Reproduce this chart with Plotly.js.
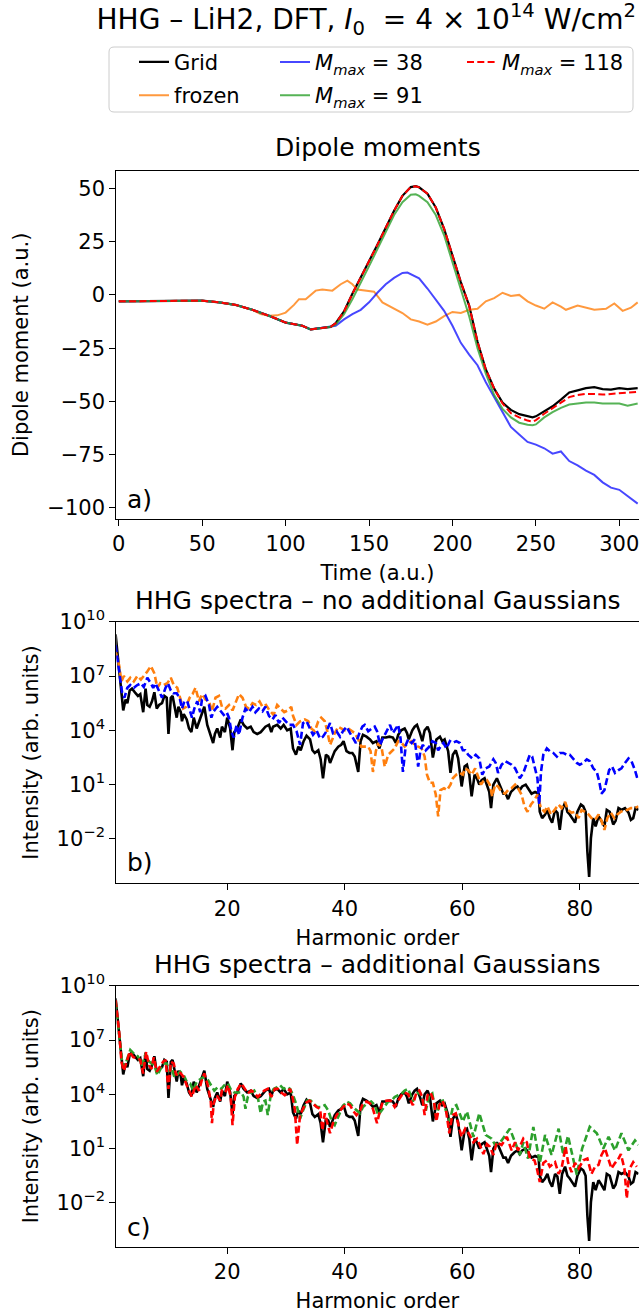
<!DOCTYPE html>
<html><head><meta charset="utf-8">
<script src="https://cdn.plot.ly/plotly-3.0.1.min.js"></script>
<style>html,body{margin:0;padding:0;background:#fff}</style>
</head><body><div id="plot" style="width:639px;height:1315px"></div>
<script>
// ---------- Panel a: dipole moments (time in a.u., dipole in a.u.) ----------
const tA = [0,10,20,30,40,50,60,70,80,90, 100,110,115,120,127,130,135,140,145,150,
  155,160,165,170,175,178,180,185,190,195, 200,205,210,215,220,225,230,235,240,245,
  248,250,255,260,265,270,275,280,285,290, 295,300,305,311];
const dipGrid = [-3,-2.9,-2.8,-2.7,-2.7,-2.7,-3.5,-4.7,-7,-9.8, -13,-14.5,-16.2,-15.6,-15,-13.3,-7.8,0.5,8,16,
  23.5,31.5,39.5,46.5,50.6,51,50.5,47.5,41,31, 18,6,-5,-22,-35,-44,-50.5,-54,-56,-57,
  -57.5,-57,-54.7,-52.3,-49.2,-45.8,-44.8,-43.8,-43.3,-44.2, -44.5,-43.8,-44.2,-43.8];
const dipM118 = [-3,-2.9,-2.8,-2.7,-2.7,-2.7,-3.5,-4.7,-7,-9.8, -13,-14.5,-16.2,-15.6,-15,-13.3,-7.8,0.5,8,16,
  23.5,31.5,39.5,46.5,50.6,51,50.5,47.5,41,31, 18,6,-5,-22,-35,-44,-51,-55.5,-57.5,-59,
  -59.5,-58.8,-55.8,-53.2,-50.5,-48,-47,-46.5,-46.5,-46.8, -46.5,-46.2,-45.7,-45.5];
const dipM91 = [-3,-2.9,-2.8,-2.7,-2.7,-2.7,-3.5,-4.7,-7,-9.8, -13,-14.5,-16.2,-15.6,-15,-14,-9,-2,5.5,13.5,
  21.5,29.5,37.5,43.5,47,47.2,46.5,43.5,37.5,28, 15,2,-10,-25,-37,-47,-53.5,-57.5,-60,-61,
  -61.2,-60.8,-57.5,-55,-53,-51.5,-51,-50.5,-50.5,-51, -51,-51,-52,-51];
const tM38 = [0,10,20,30,40,50,60,70,80,90, 100,110,115,120,125,130,135,140,145,150,
  155,160,165,170,173,177,180,185,190,195, 200,205,210,215,220,225,230,235,240,245,
  250,255,260,265,270,275,280,285,290,295, 300,305,311];
const dipM38 = [-3,-2.9,-2.8,-2.7,-2.7,-2.7,-3.5,-4.7,-7,-9.8, -13,-14.5,-16.2,-15.6,-15.3,-14.5,-11.5,-9,-7,-3.5,
  1,5,8,10.3,10.5,9,7.8,3,-2.3,-7.5, -14.5,-22.5,-28,-33,-41,-48,-55,-62,-65.5,-69,
  -70.3,-72,-74.5,-73.5,-78,-80,-82.5,-84.5,-88,-90.5, -91.5,-94.5,-98];
const tFrozen = [0,10,20,30,40,50,60,70,80,85, 90,95,100,105,108,112,118,122,128,133,
  137,140,143,150,153,158,165,170,175,180, 185,190,195,200,205,210,215,220,225,230,
  235,240,245,250,255,260,265,268,275,285, 292,297,302,307,311];
const dipFrozen = [-3,-2.9,-2.8,-2.7,-2.7,-2.7,-3.5,-4.7,-7,-9, -9.8,-9.6,-8.3,-4.7,-2,-2,2,2.5,2,5,
  6.7,5,2.5,2,1.5,-3.5,-6.3,-8.5,-11.5,-12.5, -14,-12.5,-10,-8,-8.5,-7,-6.5,-3,-1.5,1,
  -0.5,0,-3,-5,-6.5,-3.5,-5.5,-7,-5,-7, -6.5,-4,-7.5,-6,-3.5];

// ---------- Panels b, c: HHG spectra (harmonic order, log10 of intensity) ----------
const hGrid = [1,1.6,2,2.3,2.7,3,3.4,3.8,4.4,4.8, 5.2,5.7,6.1,6.4,6.8,7.2,7.6,8.0,8.4,8.9,
  9.3,9.7,10.0,10.4,10.7,11.0,11.4,11.7,12.1,12.3, 12.6,13.1,13.5,13.9,14.3,14.8,15.2,15.7,16.1,16.6,
  17.2,17.6,17.9,18.3,18.8,19.1,19.6,20.0,20.5,20.9, 21.2,21.7,22.3,22.8,23.4,24.0,24.5,25.1,25.7,26.5,
  27.1,27.5,27.8,28.5,29.1,29.6,30.2,30.8,31.2,31.7, 32.1,32.5,33.0,33.5,34.1,34.5,34.9,35.5,35.9,36.3,
  36.8,37.2,37.5,37.9,38.3,38.9,39.4,39.8,40.3,40.8, 41.3,41.7,42.3,42.7,43.1,43.7,44.3,44.8,45.4,45.9,
  46.4,47.0,47.6,48.2,48.7,49.1,49.6,50.2,50.6,50.9, 51.5,51.9,52.3,52.8,53.2,53.6,54.1,54.5,55.0,55.6,
  56.2,56.6,57.0,57.6,58.0,58.4,58.9,59.3,59.9,60.4, 60.8,61.2,61.6,62.1,62.5,62.9,63.3,63.8,64.2,64.6,
  64.9,65.3,65.9,66.4,67.0,67.4,67.8,68.3,68.9,69.4, 69.8,70.2,70.8,71.2,71.8,72.4,73.0,73.2,73.6,74.1,
  74.5,74.9,75.3,75.8,76.2,76.6,77.0,77.5,77.9,78.3, 78.7,79.2,79.6,80.2,80.6,81.0,81.3,81.6,81.9,82.3,
  82.7,83.2,83.6,84.2,84.6,85.1,85.7,86.1,86.6,87.1, 87.7,88.3,88.7,89.1,89.5,90.0];
const logGrid = [9.3,7.4,6.0,5.1,5.7,5.5,6.2,6.3,6.05,5.9, 6.0,5.0,6.3,5.4,5.3,5.6,6.1,5.2,5.4,5.5,
  5.9,5.8,3.8,5.8,5.9,5.3,4.7,5.3,5.0,4.5, 4.9,4.6,4.1,3.9,4.7,4.1,4.5,5.0,5.3,4.3,
  3.7,3.3,3.8,4.1,3.6,4.2,3.9,4.7,4.1,2.9, 3.9,4.1,4.6,4.3,4.1,4.2,3.9,3.8,3.9,4.2,
  4.3,3.9,4.2,4.3,4.1,4.3,4.0,4.1,3.0,2.65, 3.1,2.9,3.4,3.7,3.5,2.9,2.75,2.9,2.4,1.35,
  2.65,2.55,2.2,2.5,2.85,3.1,3.2,3.4,2.85,2.75, 2.75,2.55,1.7,3.4,3.75,3.65,3.5,3.3,3.4,3.0,
  3.6,3.6,3.65,3.6,3.3,3.75,4.0,4.1,3.85,3.5, 4.0,4.2,4.3,3.85,3.4,4.0,4.2,3.85,2.5,3.5,
  3.65,3.4,3.5,2.85,1.65,2.65,2.9,2.45,0.9,2.0, 2.1,1.55,0.35,1.55,1.35,1.0,1.25,1.35,1.0,0.6,
  -0.3,1.0,1.35,1.0,0.5,0.5,0.2,0.6,0.8,0.9, 0.7,0.9,1.0,0.8,0.5,0.6,0.5,-0.5,-0.85,-0.65,
  -0.4,-0.85,-1.1,-0.4,-0.55,-1.5,-0.4,0.0,-0.5,-0.65, -0.85,-1.1,-0.5,-0.1,-0.2,-0.5,-2.7,-4.1,-1.95,-0.85,
  -1.3,-0.75,-0.95,-1.3,-0.4,-0.5,-1.2,-1.0,-0.3,-0.4, -0.3,-0.55,-0.95,-0.85,-0.3,-0.4];

const hFrozen = [1,1.6,2.0,2.4,3.0,3.5,4.1,4.7,5.3,5.8, 6.4,7.0,7.6,8.1,8.6,9.2,9.8,10.4,10.9,11.5,
  11.9,12.5,13.0,13.6,14.1,14.6,15.2,15.7,16.3,16.9, 17.4,18.0,18.6,19.1,19.7,20.3,20.9,21.5,22.0,22.6,
  23.2,23.7,24.3,24.9,25.5,26.0,26.6,27.2,27.9,28.5, 29.1,29.7,30.3,30.9,31.2,31.8,32.4,33.2,33.8,34.3,
  34.9,35.5,36.0,36.6,37.0,37.5,37.9,38.3,38.9,39.4, 40.0,40.6,41.2,41.7,42.3,42.8,43.4,44.0,44.4,44.8,
  45.3,45.7,46.3,46.8,47.4,48.0,48.5,49.1,49.7,50.2, 50.8,51.4,51.9,52.5,53.1,53.6,54.0,54.5,55.0,55.5,
  55.9,56.3,56.9,57.4,58.0,58.4,59.0,59.6,60.1,60.5, 61.0,61.6,62.2,62.7,63.2,63.6,64.2,64.7,65.1,65.6,
  66.1,66.7,67.3,67.8,68.4,69.0,69.5,70.1,70.6,71.1, 71.7,72.3,72.8,73.4,74.0,74.5,75.1,75.7,76.4,76.9,
  77.5,78.0,78.6,79.2,79.8,80.3,80.9,81.5,82.0,82.6, 83.2,83.7,84.2,84.7,85.3,85.9,86.4,87.0,87.6,88.1,
  88.7,89.4,90.0];
const logFrozen = [8.35,7.6,6.7,7.0,6.7,6.9,6.7,7.0,6.8,7.0, 7.25,7.55,7.15,6.35,6.6,6.5,6.6,6.9,6.5,6.35,
  5.9,5.2,5.3,5.8,6.0,6.35,5.6,6.0,5.7,5.6, 5.05,5.8,5.9,5.3,5.2,5.4,5.1,5.6,6.0,5.8,
  5.3,5.2,5.5,5.4,5.6,5.3,5.4,5.1,4.85,5.4, 5.2,5.0,5.1,5.3,4.8,4.3,4.5,4.6,4.5,4.1,
  3.95,4.5,4.7,4.5,4.0,3.2,3.5,3.85,4.2,4.1, 4.0,4.1,3.95,3.85,3.5,3.1,3.1,3.1,2.85,1.7,
  2.85,3.3,3.0,2.0,2.65,2.85,3.0,3.4,3.3,3.1, 3.3,3.4,3.2,3.1,3.0,2.55,1.55,1.1,1.1,0.45,
  -0.75,0.7,0.8,0.7,1.0,1.35,1.55,1.65,1.55,1.9, 1.8,1.55,1.9,1.45,1.0,1.2,1.25,1.0,0.35,1.0,
  0.9,0.6,0.5,0.7,0.8,1.0,0.8,0.45,-0.2,-0.5, -0.1,0.15,0.45,-0.3,-0.5,-0.2,-0.65,-0.4,-0.1,-0.3,
  0.05,-0.4,-0.55,-0.5,-0.85,-0.4,-0.5,-0.65,-0.85,-0.95, -0.65,-1.0,-1.5,-0.85,-0.55,-0.85,-0.65,-0.5,-0.4,-0.4,
  -0.3,-0.3,-0.2];

const hM38 = [1,1.6,2.1,2.5,3.0,3.5,4.1,4.7,5.3,5.8, 6.4,7.0,7.4,7.8,8.4,8.9,9.5,9.9,10.4,10.8,
  11.4,11.9,12.3,12.7,13.2,13.7,14.0,14.4,14.9,15.4, 15.7,16.3,16.9,17.3,17.7,18.3,18.9,19.4,19.9,20.3,
  20.7,21.1,21.6,22.0,22.6,23.1,23.7,24.3,24.8,25.4, 26.0,26.5,27.1,27.7,28.2,28.8,29.4,29.9,30.5,31.2,
  31.8,32.4,32.9,33.5,34.1,34.6,35.2,35.8,36.3,36.9, 37.5,38.0,38.6,39.2,39.7,40.3,40.9,41.4,41.9,42.5,
  43.0,43.4,44.0,44.6,45.1,45.5,46.0,46.5,47.2,47.7, 48.2,48.7,49.1,49.5,49.9,50.4,50.8,51.4,51.9,52.5,
  52.9,53.3,53.8,54.4,54.9,55.5,55.9,56.5,56.8,57.3, 57.9,58.4,59.0,59.6,60.1,60.5,61.0,61.7,62.3,62.9,
  63.4,64.0,64.6,65.3,65.7,66.1,66.7,67.3,67.8,68.4, 69.0,69.4,69.8,70.4,71.0,71.5,71.9,72.4,72.8,73.1,
  73.4,73.8,74.4,74.9,75.5,76.1,76.6,77.2,77.8,78.3, 78.9,79.5,80.0,80.6,81.2,81.7,82.3,82.9,83.3,83.7,
  84.2,84.6,85.0,85.5,86.0,86.6,87.1,87.7,88.3,88.8, 89.4,89.8];
const logM38 = [8.7,7.25,6.1,5.8,6.35,6.5,6.35,6.5,6.6,6.4, 6.9,6.6,6.35,6.6,6.2,5.8,6.35,6.6,6.2,6.05,
  6.05,5.8,5.2,5.6,5.6,5.1,4.7,5.2,5.6,5.0, 5.7,5.9,5.4,4.7,5.05,5.3,5.05,4.85,5.0,4.7,
  3.95,3.6,4.3,3.75,4.7,5.2,5.0,5.3,5.0,5.2, 5.05,5.3,4.8,4.6,4.85,4.4,4.7,4.5,4.3,4.3,
  3.95,3.2,4.4,4.5,4.1,3.75,4.0,3.55,3.65,3.95, 4.4,3.85,3.95,3.65,3.95,4.2,3.85,3.55,3.3,3.85,
  4.2,4.3,3.95,4.1,4.2,3.95,3.2,3.55,4.0,4.3, 3.85,4.1,4.3,3.55,1.7,3.2,3.5,3.3,3.5,2.0,
  2.9,3.2,2.9,3.1,3.4,3.3,2.9,3.2,3.3,3.0, 3.4,3.3,3.4,3.3,2.9,2.9,2.65,2.45,2.65,2.45,
  1.55,1.9,2.0,2.4,2.2,1.65,2.1,2.3,2.2,2.1, 1.9,1.65,1.35,1.65,2.2,2.65,2.55,1.9,1.35,-0.1,
  1.7,2.65,3.0,2.85,2.75,2.55,2.75,2.75,2.65,2.65, 2.45,2.2,2.1,2.2,2.4,2.3,1.9,1.7,1.2,0.5,
  0.7,1.35,1.8,2.0,1.65,1.8,1.9,2.2,2.45,2.3, 1.8,1.35];

const hM118 = [1,1.6,2.0,2.4,2.9,3.4,4.0,4.6,5.2,5.7, 6.2,6.7,7.1,7.5,8.0,8.5,9.1,9.5,10.0,10.4,
  10.9,11.3,11.7,12.1,12.6,13.1,13.7,14.0,14.6,15.2, 15.6,16.1,16.7,17.2,17.4,17.7,18.2,18.8,19.1,19.7,
  20.1,20.6,20.9,21.3,21.8,22.4,23.0,23.5,24.1,24.6, 25.2,25.8,26.3,26.9,27.5,28.1,28.6,29.2,29.8,30.2,
  30.7,31.1,31.5,31.9,32.4,32.9,33.5,34.0,34.5,35.2, 35.8,36.2,36.6,37.0,37.5,38.0,38.6,39.2,39.7,40.3,
  40.9,41.4,42.0,42.6,43.1,43.7,44.3,44.8,45.5,46.0, 46.5,47.2,47.8,48.5,49.1,49.7,50.2,50.8,51.2,51.6,
  52.2,52.7,53.2,53.6,54.1,54.6,55.2,55.6,56.1,56.6, 57.2,57.8,58.3,58.9,59.5,59.9,60.5,61.0,61.9,62.5,
  63.0,63.6,64.2,64.7,65.3,65.9,66.7,67.6,68.4,69.0, 69.5,70.4,71.0,71.5,72.3,72.7,73.2,73.8,74.4,74.9,
  75.8,76.4,76.9,77.6,78.0,78.6,79.2,79.8,80.6,81.3, 82.0,82.6,83.2,83.7,84.3,84.9,85.4,86.0,86.6,87.0,
  87.6,88.0,88.5,89.1,89.7];
const logM118 = [9.2,7.45,5.8,5.3,5.8,6.35,6.05,6.0,5.9,5.15, 6.35,5.6,5.4,6.05,5.25,5.5,5.8,5.9,4.3,5.8,
  5.7,5.05,5.25,5.15,4.95,4.5,4.1,3.85,4.5,4.2, 4.7,5.15,4.5,3.6,2.4,3.5,3.95,3.65,4.2,4.1,
  4.5,3.85,2.3,3.85,4.3,4.6,4.3,4.05,4.2,4.1, 3.85,4.05,4.2,4.3,3.85,4.3,4.3,4.1,3.95,4.1,
  4.3,3.85,3.2,1.2,2.85,3.2,3.55,3.65,3.5,3.3, 3.2,2.0,2.95,2.5,1.85,2.4,2.85,3.1,3.3,3.5,
  3.4,3.1,2.85,3.1,3.5,3.6,3.5,3.2,2.4,3.1, 3.6,3.65,3.65,3.3,3.65,3.95,4.1,4.0,3.65,3.4,
  4.1,4.2,3.85,2.85,3.95,4.1,3.6,2.5,3.4,3.65, 3.2,1.85,2.85,2.95,2.1,1.65,2.1,1.9,1.35,1.55,
  1.2,0.7,1.25,1.1,0.65,1.35,1.2,1.65,0.9,1.35, 0.9,1.55,1.35,0.45,0.35,-0.1,-0.85,0.2,0.35,0.0,
  0.25,-0.4,-0.1,1.1,0.25,-0.3,0.2,-0.1,0.35,0.45, -0.4,0.0,0.1,0.65,1.0,0.35,-0.1,0.2,0.45,0.7,
  -0.1,-1.75,-0.1,0.25,0.0];

const hM91 = [1,1.6,2.1,2.5,3.0,3.5,4.1,4.8,5.5,6.1, 6.7,7.2,7.8,8.1,8.5,9.1,9.7,10.1,10.5,11.0,
  11.4,12.0,12.6,13.1,13.7,14.2,14.8,15.4,16.0,16.6, 17.3,17.8,18.4,19.0,19.5,20.1,20.7,21.2,21.8,22.4,
  22.8,23.1,23.5,24.1,24.6,25.2,25.7,26.1,26.5,26.9, 27.4,27.9,28.5,29.0,29.6,30.2,30.7,31.2,31.8,32.4,
  32.9,33.6,34.2,34.7,35.3,36.0,36.6,37.2,37.8,38.3, 38.9,39.6,40.3,40.9,41.4,42.0,42.6,43.1,43.8,44.5,
  45.1,45.7,46.3,46.8,47.4,48.0,48.5,49.1,49.7,50.2, 50.8,51.2,51.6,52.2,52.8,53.3,53.8,54.4,54.9,55.6,
  56.2,56.7,57.3,57.9,58.4,59.0,59.6,60.1,60.8,61.9, 62.9,64.0,65.0,65.6,66.7,68.1,69.0,69.8,70.4,71.2,
  72.1,73.2,74.1,75.2,76.4,77.2,78.0,79.5,80.4,81.7, 82.9,84.0,84.9,86.0,87.1,88.3,89.4,90.0];
const logM91 = [9.1,7.25,5.8,5.5,6.0,6.45,6.25,6.1,5.6,6.25, 5.8,5.7,5.4,5.05,5.3,5.7,5.7,5.25,5.5,4.95,
  5.05,5.25,5.05,4.7,4.6,4.2,4.7,4.85,4.95,4.85, 4.5,4.2,4.4,4.3,4.5,4.6,4.2,4.1,4.1,4.1,
  3.85,3.2,3.85,4.1,4.2,3.85,2.95,3.6,3.65,2.85, 3.95,4.3,4.4,4.5,4.3,4.4,4.3,3.95,3.4,2.65,
  3.1,3.65,3.65,3.5,3.3,3.3,3.4,3.1,2.5,2.3, 2.75,3.3,3.6,3.5,3.3,3.1,2.95,3.3,3.5,3.6,
  3.4,2.85,3.1,3.3,3.6,3.65,3.85,3.95,4.05,4.2, 4.3,3.95,3.6,4.05,4.1,3.65,3.1,3.95,4.05,2.75,
  3.6,3.65,3.0,2.5,3.3,3.4,2.85,2.5,3.05,1.65, 2.95,1.75,1.55,1.2,1.45,2.1,1.35,0.65,1.35,0.45,
  2.2,0.2,1.75,0.65,2.1,0.65,1.7,-0.45,1.0,2.2, 1.85,1.0,1.65,0.9,1.85,0.9,1.45,1.2];

const logTickVals = [-2, 1, 4, 7, 10];
const labels = {
  grid: 'Grid', frozen: 'frozen',
  m38: '<i>M</i><sub><i>max</i></sub> = 38',
  m91: '<i>M</i><sub><i>max</i></sub> = 91',
  m118: '<i>M</i><sub><i>max</i></sub> = 118'
};

// ---------- layout helpers (pixel -> paper) ----------
const W = 639, H = 1315;
const fx = p => p / W, fy = p => 1 - p / H;
const pow10 = a => a.map(v => Math.pow(10, v));

const C = {
  black: '#000000',
  orangeA: 'rgba(255,127,14,0.8)', blueA: 'rgba(0,0,255,0.72)', greenA: 'rgba(44,160,44,0.8)', red: '#ff0000',
  orange: '#ff7f0e', blue: '#0000ff', green: '#2ca02c'
};
const DASH = '7px,3.3px';
const LWS = 2.6;

const traces = [
  // panel a
  {x: tA, y: dipGrid, name: labels.grid, legend: 'legend', legendgroup: 'g1', xaxis: 'x', yaxis: 'y', mode: 'lines', line: {color: C.black, width: 2.2}},
  {x: tFrozen, y: dipFrozen, name: labels.frozen, legend: 'legend', legendgroup: 'g2', xaxis: 'x', yaxis: 'y', mode: 'lines', line: {color: C.orangeA, width: 2}},
  {x: tM38, y: dipM38, name: labels.m38, legend: 'legend2', legendgroup: 'g3', xaxis: 'x', yaxis: 'y', mode: 'lines', line: {color: C.blueA, width: 2}},
  {x: tA, y: dipM91, name: labels.m91, legend: 'legend2', legendgroup: 'g4', xaxis: 'x', yaxis: 'y', mode: 'lines', line: {color: C.greenA, width: 2}},
  {x: tA, y: dipM118, name: labels.m118, legend: 'legend3', legendgroup: 'g5', xaxis: 'x', yaxis: 'y', mode: 'lines', line: {color: C.red, width: 2, dash: DASH}},
  // panel b
  {x: hGrid, y: pow10(logGrid), showlegend: false, xaxis: 'x2', yaxis: 'y2', mode: 'lines', line: {color: C.black, width: LWS}},
  {x: hFrozen, y: pow10(logFrozen), showlegend: false, xaxis: 'x2', yaxis: 'y2', mode: 'lines', line: {color: C.orange, width: LWS, dash: DASH}},
  {x: hM38, y: pow10(logM38), showlegend: false, xaxis: 'x2', yaxis: 'y2', mode: 'lines', line: {color: C.blue, width: LWS, dash: DASH}},
  // panel c
  {x: hGrid, y: pow10(logGrid), showlegend: false, xaxis: 'x3', yaxis: 'y3', mode: 'lines', line: {color: C.black, width: LWS}},
  {x: hM91, y: pow10(logM91), showlegend: false, xaxis: 'x3', yaxis: 'y3', mode: 'lines', line: {color: C.green, width: LWS, dash: DASH}},
  {x: hM118, y: pow10(logM118), showlegend: false, xaxis: 'x3', yaxis: 'y3', mode: 'lines', line: {color: C.red, width: LWS, dash: DASH}}
];

const FS = 21;
const FAM = 'DejaVu Sans, sans-serif';
const axBase = {
  showline: true, mirror: true, linecolor: '#000', linewidth: 1.2,
  ticks: 'outside', ticklen: 6, tickwidth: 1.2, tickcolor: '#000',
  showgrid: false, zeroline: false, automargin: false, ticklabeloverflow: 'allow',
  tickfont: {family: FAM, size: FS, color: '#000'}
};
const xDom = [fx(116.3), fx(638.5)];
const logAxis = (dom, rng, title) => Object.assign({}, axBase, {
  type: 'log', domain: dom, range: rng,
  tickvals: logTickVals.map(e => Math.pow(10, e)),
  ticktext: logTickVals.map(e => '10<sup>' + (e < 0 ? '\u2212' + (-e) : e) + '</sup>'),
  title: {text: title, font: {family: FAM, size: FS}, standoff: 12}
});

const legendBase = {
  xanchor: 'left', yanchor: 'top', bgcolor: 'rgba(0,0,0,0)', borderwidth: 0,
  font: {family: FAM, size: FS, color: '#000'}, tracegroupgap: 3, orientation: 'v'
};

const r = 5, x0 = 109, x1 = 633, y0 = 47, y1 = 112;
const framePath = `M${fx(x0 + r)},${fy(y0)} L${fx(x1 - r)},${fy(y0)} Q${fx(x1)},${fy(y0)} ${fx(x1)},${fy(y0 + r)} ` +
  `L${fx(x1)},${fy(y1 - r)} Q${fx(x1)},${fy(y1)} ${fx(x1 - r)},${fy(y1)} L${fx(x0 + r)},${fy(y1)} ` +
  `Q${fx(x0)},${fy(y1)} ${fx(x0)},${fy(y1 - r)} L${fx(x0)},${fy(y0 + r)} Q${fx(x0)},${fy(y0)} ${fx(x0 + r)},${fy(y0)} Z`;

const panelTitle = (text, yPx) => ({
  text, xref: 'paper', yref: 'paper', x: fx(377.5), y: fy(yPx), xanchor: 'center', yanchor: 'middle',
  showarrow: false, font: {family: FAM, size: 25, color: '#000'}
});
const panelTag = (text, yPx) => ({
  text, xref: 'paper', yref: 'paper', x: fx(125), y: fy(yPx), xanchor: 'left', yanchor: 'middle',
  showarrow: false, font: {family: FAM, size: 25, color: '#000'}
});

const layout = {
  width: W, height: H, margin: {l: 0, r: 0, t: 0, b: 0},
  paper_bgcolor: '#fff', plot_bgcolor: '#fff',
  font: {family: FAM, size: FS, color: '#000'},
  title: {
    text: 'HHG \u2013 LiH2, DFT, <i>I</i><sub>0</sub>\u00a0\u00a0= 4 \u00d7 10<sup>14</sup> W/cm<sup>2</sup>',
    x: fx(636), xanchor: 'right', y: fy(19), yanchor: 'middle', font: {family: FAM, size: 28, color: '#000'}
  },
  xaxis: Object.assign({}, axBase, {domain: xDom, range: [-1.5, 311.5], anchor: 'y', tick0: 0, dtick: 50,
    title: {text: 'Time (a.u.)', font: {family: FAM, size: FS}, standoff: 10}}),
  yaxis: Object.assign({}, axBase, {domain: [fy(519), fy(170.7)], range: [-105.2, 58.3], anchor: 'x', tick0: 0, dtick: 25,
    title: {text: 'Dipole moment (a.u.)', font: {family: FAM, size: FS}, standoff: 12}}),
  xaxis2: Object.assign({}, axBase, {domain: xDom, range: [1.12, 90], anchor: 'y2', tick0: 0, dtick: 20,
    title: {text: 'Harmonic order', font: {family: FAM, size: FS}, standoff: 10}}),
  yaxis2: Object.assign(logAxis([fy(883.3), fy(621.7)], [-4.45, 10], 'Intensity (arb. units)'), {anchor: 'x2'}),
  xaxis3: Object.assign({}, axBase, {domain: xDom, range: [1.12, 90], anchor: 'y3', tick0: 0, dtick: 20,
    title: {text: 'Harmonic order', font: {family: FAM, size: FS}, standoff: 10}}),
  yaxis3: Object.assign(logAxis([fy(1246.7), fy(985.7)], [-4.42, 10], 'Intensity (arb. units)'), {anchor: 'x3'}),
  legend: Object.assign({}, legendBase, {x: fx(134), y: fy(41.8)}),
  legend2: Object.assign({}, legendBase, {x: fx(275), y: fy(41.8)}),
  legend3: Object.assign({}, legendBase, {x: fx(462), y: fy(41.8)}),
  shapes: [{type: 'path', xref: 'paper', yref: 'paper', path: framePath,
    line: {color: '#cccccc', width: 1}, fillcolor: 'rgba(255,255,255,0.8)', layer: 'below'}],
  annotations: [
    panelTitle('Dipole moments', 148),
    panelTitle('HHG spectra \u2013 no additional Gaussians', 600),
    panelTitle('HHG spectra \u2013 additional Gaussians', 964),
    panelTag('a)', 499), panelTag('b)', 862), panelTag('c)', 1227)
  ]
};

Plotly.newPlot('plot', traces, layout, {displayModeBar: false});
</script></body></html>
